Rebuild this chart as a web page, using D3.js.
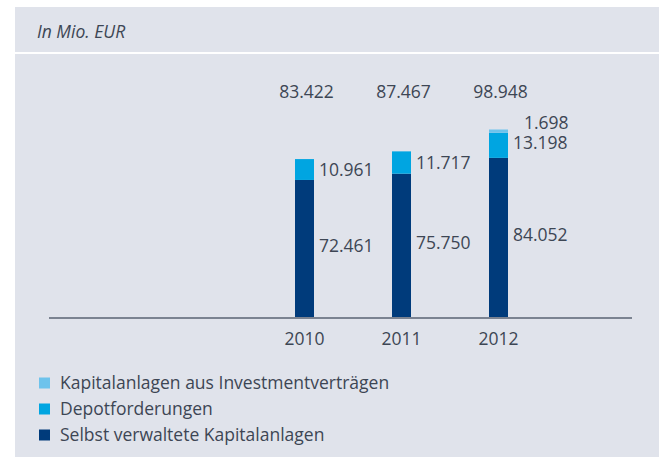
<!DOCTYPE html>
<html>
<head>
<meta charset="utf-8">
<script src="https://cdn.jsdelivr.net/npm/d3@7"></script>
<style>
  body { margin: 0; background: #fff; }
  svg text { font-family: "Open Sans", "Noto Sans", sans-serif; fill: #3d4654; }
</style>
</head>
<body>
<svg id="chart" width="659" height="457"></svg>
<script>
// Data (Mio. EUR)
const years = ['2010', '2011', '2012'];
const selbst = [72.461, 75.750, 84.052];
const depot = [10.961, 11.717, 13.198];
const invest = [0, 0, 1.698];
const totals = ['83.422', '87.467', '98.948'];
const seriesNames = ['Kapitalanlagen aus Investmentverträgen', 'Depotforderungen', 'Selbst verwaltete Kapitalanlagen'];
const colors = ['#6ec3ec', '#00a5e1', '#003b7b'];

const svg = d3.select('#chart');
const fs = '17.5px';

// background panel
svg.append('rect').attr('x', 15).attr('y', 7).attr('width', 644).attr('height', 450).attr('fill', '#e0e3eb');
svg.append('rect').attr('x', 15).attr('y', 52).attr('width', 644).attr('height', 2).attr('fill', '#fff');

svg.append('text')
  .attr('x', 37).attr('y', 38)
  .style('font-style', 'italic')
  .style('font-size', '17.5px')
  .text('In Mio. EUR');

// scales
const x = d3.scaleBand().domain(years).range([256, 547]).paddingInner(0.8).paddingOuter(0.4);
const y = d3.scaleLinear().domain([0, 100]).range([318, 127.5]);

const rows = years.map((yr, i) => ({ year: yr, selbst: selbst[i], depot: depot[i], invest: invest[i] }));
const stack = d3.stack().keys(['selbst', 'depot', 'invest'])(rows);
const colorFor = { selbst: colors[2], depot: colors[1], invest: colors[0] };

const bw = 19;
stack.forEach(layer => {
  svg.append('g').selectAll('rect')
    .data(layer.filter(d => d[1] > d[0]))
    .enter().append('rect')
    .attr('x', d => x(d.data.year) + x.bandwidth() / 2 - bw / 2)
    .attr('width', bw)
    .attr('y', d => y(d[1]))
    .attr('height', d => y(d[0]) - y(d[1]))
    .attr('fill', colorFor[layer.key]);
});

// segment labels
const fmt = v => v.toFixed(3);
const labels = [];
rows.forEach((r, i) => {
  const lx = x(r.year) + x.bandwidth() / 2 + bw / 2 + 5;
  const crowded = r.invest > 0;
  labels.push({ x: lx, y: y(r.selbst / 2) - 3, t: fmt(r.selbst) });
  labels.push({ x: lx, y: y(r.selbst + r.depot / 2) - (crowded ? 2 : 0), t: fmt(r.depot) });
  if (crowded) labels.push({ x: lx + 11, y: y(r.selbst + r.depot + r.invest) - 7, t: fmt(r.invest) });
});
svg.append('g').selectAll('text')
  .data(labels)
  .enter().append('text')
  .attr('x', d => d.x).attr('y', d => d.y)
  .attr('dy', '0.35em')
  .style('font-size', fs)
  .text(d => d.t);

// totals
svg.append('g').selectAll('text')
  .data(years)
  .enter().append('text')
  .attr('x', (d, i) => x(d) + x.bandwidth() / 2 + 2)
  .attr('y', 98)
  .attr('text-anchor', 'middle')
  .style('font-size', fs)
  .text((d, i) => totals[i]);

// x axis
svg.append('line')
  .attr('x1', 49).attr('x2', 632)
  .attr('y1', 318).attr('y2', 318)
  .attr('stroke', '#7b8391').attr('stroke-width', 2);

svg.append('g').selectAll('text')
  .data(years)
  .enter().append('text')
  .attr('x', d => x(d) + x.bandwidth() / 2)
  .attr('y', 345)
  .attr('text-anchor', 'middle')
  .style('font-size', fs)
  .text(d => d);

// legend
const legend = svg.append('g').selectAll('g')
  .data(seriesNames)
  .enter().append('g')
  .attr('transform', (d, i) => `translate(39, ${383 + i * 26})`);
legend.append('rect')
  .attr('x', 0).attr('y', -5.5).attr('width', 11).attr('height', 11)
  .attr('fill', (d, i) => colors[i]);
legend.append('text')
  .attr('x', 21).attr('y', 0).attr('dy', '0.35em')
  .style('font-size', fs)
  .text(d => d);
</script>
</body>
</html>
